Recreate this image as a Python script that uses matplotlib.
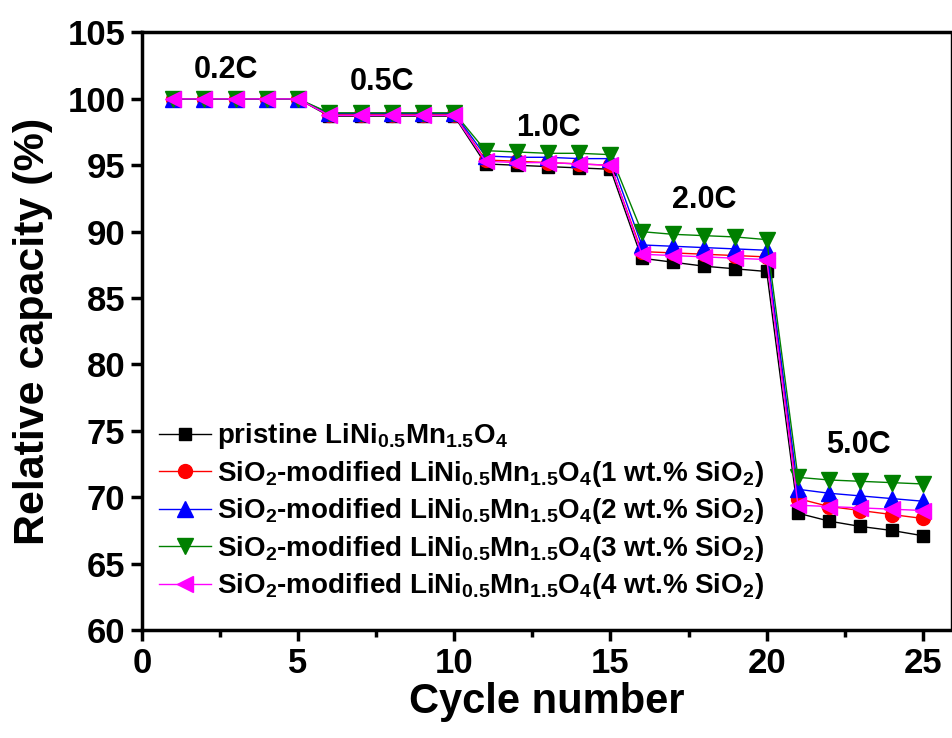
import matplotlib
matplotlib.use('Agg')
import matplotlib.pyplot as plt
from matplotlib.ticker import MultipleLocator
import numpy as np

fam = 'Liberation Sans'
plt.rcParams['font.family'] = [fam, 'DejaVu Sans']
plt.rcParams['font.weight'] = 'bold'
plt.rcParams['mathtext.fontset'] = 'custom'
plt.rcParams['mathtext.rm'] = fam + ':bold'
plt.rcParams['mathtext.it'] = fam + ':bold'
plt.rcParams['mathtext.bf'] = fam + ':bold'
plt.rcParams['mathtext.default'] = 'rm'

cycles = np.arange(1, 26)
pristine = [100, 100, 100, 100, 100,
            98.7, 98.7, 98.7, 98.7, 98.7,
            95.1, 95.0, 94.9, 94.8, 94.7,
            88.0, 87.7, 87.4, 87.2, 87.0,
            68.8, 68.2, 67.8, 67.5, 67.1]
si1 = [100, 100, 100, 100, 100,
       98.8, 98.8, 98.8, 98.8, 98.8,
       95.4, 95.3, 95.2, 95.1, 95.0,
       88.5, 88.4, 88.3, 88.2, 88.1,
       69.9, 69.3, 69.0, 68.7, 68.4]
si2 = [100, 100, 100, 100, 100,
       98.9, 98.9, 98.9, 98.9, 98.9,
       95.7, 95.6, 95.6, 95.5, 95.5,
       89.0, 88.9, 88.8, 88.7, 88.6,
       70.6, 70.3, 70.1, 69.9, 69.7]
si3 = [100, 100, 100, 100, 100,
       98.95, 98.95, 98.95, 98.95, 98.95,
       96.1, 96.0, 95.9, 95.9, 95.8,
       90.0, 89.8, 89.7, 89.6, 89.4,
       71.5, 71.3, 71.2, 71.1, 71.0]
si4 = [100, 100, 100, 100, 100,
       98.75, 98.75, 98.75, 98.75, 98.75,
       95.3, 95.2, 95.2, 95.1, 95.0,
       88.3, 88.2, 88.1, 88.0, 87.9,
       69.4, 69.3, 69.2, 69.1, 69.0]

lmo = 'LiNi$_{0.5}$Mn$_{1.5}$O$_{4}$'
labels = ['pristine ' + lmo,
          'SiO$_{2}$-modified ' + lmo + '(1 wt.% SiO$_{2}$)',
          'SiO$_{2}$-modified ' + lmo + '(2 wt.% SiO$_{2}$)',
          'SiO$_{2}$-modified ' + lmo + '(3 wt.% SiO$_{2}$)',
          'SiO$_{2}$-modified ' + lmo + '(4 wt.% SiO$_{2}$)']
rates = ['0.2C', '0.5C', '1.0C', '2.0C', '5.0C']
rate_x = [2.7, 7.7, 13.0, 18.0, 22.95]
rate_y = [102.2, 101.3, 97.8, 92.4, 73.9]

fig = plt.figure(figsize=(9.52, 7.38), dpi=100)
ax = fig.add_axes([0.149, 0.1463, 0.85, 0.8097])

series = [pristine, si1, si2, si3, si4]
colors = ['black', 'red', 'blue', 'green', 'magenta']
markers = ['s', 'o', '^', 'v', '<']
msizes = [8, 10, 11, 11, 11]
for s, c, m, ms, lab in zip(series, colors, markers, msizes, labels):
    ax.plot(cycles, s, color=c, marker=m, markersize=ms, lw=1, label=lab)

for t, x, y in zip(rates, rate_x, rate_y):
    ax.text(x, y, t, fontsize=22, fontweight='bold', ha='center', va='center')

ax.set_xlim(0, 25.9)
ax.set_ylim(60, 105)
ax.xaxis.set_major_locator(MultipleLocator(5))
ax.xaxis.set_minor_locator(MultipleLocator(2.5))
ax.yaxis.set_major_locator(MultipleLocator(5))
ax.tick_params(which='major', direction='out', length=8, width=2.5, labelsize=25, pad=4)
ax.tick_params(which='minor', direction='out', length=5, width=2.5)
for sp in ['left', 'bottom', 'top']:
    ax.spines[sp].set_linewidth(2.5)
ax.spines['right'].set_linewidth(1)

ax.set_xlabel('Cycle number', fontsize=30, fontweight='bold', labelpad=2)
ax.set_ylabel('Relative capacity (%)', fontsize=31, fontweight='bold', labelpad=10)

ax.legend(loc='lower left', bbox_to_anchor=(0.0, 0.02), frameon=False, fontsize=20,
          handlelength=1.9, handletextpad=0.2, labelspacing=0.27, borderaxespad=0.2)

fig.savefig('out.png', dpi=100)
